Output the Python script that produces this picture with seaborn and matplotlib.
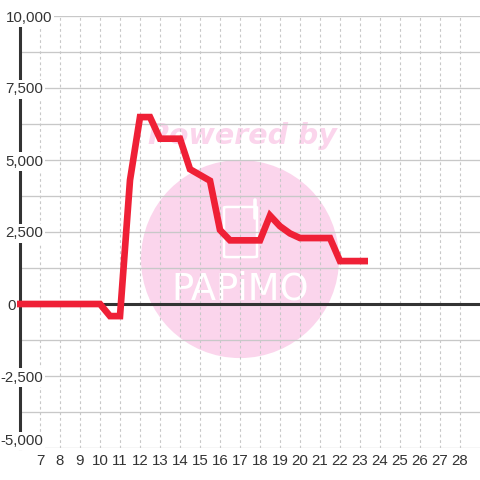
import numpy as np
import pandas as pd
import seaborn as sns
import matplotlib.pyplot as plt
from matplotlib.patches import Ellipse, FancyBboxPatch

# datos
horas = [5.85, 10, 10.5, 11, 11.5, 12, 12.5, 13, 14, 14.5, 15.5, 16, 16.5, 18, 18.5, 19, 19.5, 20, 21.5, 22, 23.4]
valores = [0, 0, -420, -420, 4300, 6490, 6490, 5740, 5740, 4680, 4280, 2570, 2210, 2210, 3070, 2700, 2450, 2290, 2290, 1490, 1490]
ticks_x = list(range(7, 29))
ticks_y = [-5000, -2500, 0, 2500, 5000, 7500, 10000]
etiquetas_y = ["-5,000", "-2,500", "0", "2,500", "5,000", "7,500", "10,000"]
menores_y = [-3750, -1250, 1250, 3750, 6250, 8750]

ROJO = "#EF2036"
ROSA = "#FBD5EC"
GRIS = "#C8C8C8"
OSCURO = "#333333"

sns.set_theme(style="white")
plt.rcParams["font.family"] = ["Liberation Sans", "DejaVu Sans"]

fig = plt.figure(figsize=(4.8, 4.8), dpi=100)
ax = fig.add_axes([20 / 480, 32 / 480, 460 / 480, 432 / 480])
ax.set_xlim(6, 29)
ax.set_ylim(-5000, 10000)
ax.set_axisbelow(False)

df = pd.DataFrame({"hora": horas, "valor": valores})

# rejilla
for v in ticks_x:
    ax.axvline(v, color=GRIS, lw=0.8, ls=(0, (2.5, 2.5)), zorder=1)
for v in ticks_y + menores_y:
    if v != 0:
        ax.axhline(v, color=GRIS, lw=0.95, zorder=1)

# marca de agua
ax.add_patch(Ellipse((17, 1560), 198 / 20, 198 / 0.0288, fc=ROSA, ec="none", zorder=0.5))
ax.text(12.4, 5850, "Powered by", color=ROSA, fontsize=20.5, fontweight="bold",
        fontstyle="italic", family="DejaVu Sans", va="center", ha="left", zorder=0.6)
ax.add_patch(FancyBboxPatch((16.2, 1630), 1.65, 1740, boxstyle="round,pad=0,rounding_size=0.25",
                            mutation_aspect=70, fc="none", ec="white", lw=1.8, zorder=0.6))
ax.plot([17.75, 17.75], [3000, 3610], color="white", lw=2.6, solid_capstyle="round", zorder=0.6)
ax.text(17, 520, "PAPiMO", color="white", fontsize=26.5, family="DejaVu Sans", va="center",
        ha="center", zorder=0.6)

ax.axhline(0, color=OSCURO, lw=2.2, zorder=2)
sns.lineplot(data=df, x="hora", y="valor", sort=False, estimator=None, color=ROJO, lw=4.8,
             solid_joinstyle="miter", solid_capstyle="butt", clip_on=False, ax=ax, zorder=3)

ax.set_xlabel("")
ax.set_ylabel("")
ax.set_xticks(ticks_x)
ax.set_xticklabels(ticks_x)
ax.set_yticks(ticks_y)
ax.set_yticklabels(etiquetas_y)
ax.tick_params(axis="x", length=0, pad=4, labelsize=10.8, labelcolor=OSCURO)
ax.tick_params(axis="y", length=0, pad=-16.5, labelsize=10.8, labelcolor=OSCURO)

# las etiquetas tapan el eje y la rejilla
for lab in ax.get_yticklabels():
    lab.set_bbox(dict(fc="white", ec="none", pad=1.5))
marcas = ax.yaxis.get_major_ticks()
marcas[2].set_pad(2.9)
marcas[-1].set_pad(-23)
ax.get_yticklabels()[0].set_verticalalignment("bottom")

for lado in ["top", "right", "bottom"]:
    ax.spines[lado].set_visible(False)
ax.spines["left"].set_color(OSCURO)
ax.spines["left"].set_linewidth(2.2)
ax.spines["left"].set_zorder(2.2)

fig.savefig("out.png", dpi=100)
